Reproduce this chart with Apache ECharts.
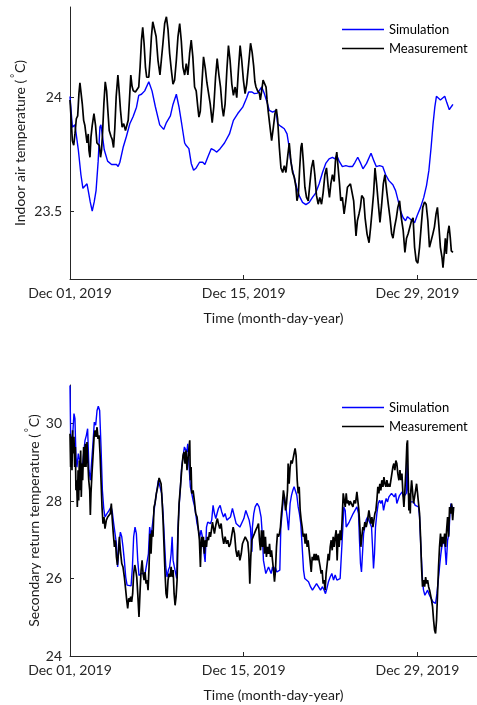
<!DOCTYPE html>
<html>
<head>
<meta charset="utf-8">
<script src="https://cdn.jsdelivr.net/npm/echarts@6/dist/echarts.min.js"></script>
<style>
  html, body { margin: 0; padding: 0; background: #fff; }
  #chart { width: 477px; height: 705px; }
</style>
</head>
<body>
<div id="chart"></div>
<script>
// Time is given in days after Dec 01, 2019 00:00.
const tickDays = [0, 14, 28];
const tickLabels = ['Dec 01, 2019', 'Dec 15, 2019', 'Dec 29, 2019'];
const xMaxDay = 32.8;

// Indoor air temperature, simulation (°C)
const simAirDays = [0,0.19,0.4,0.67,0.88,1.04,1.2,1.37,1.47,1.63,1.79,1.95,2.1,2.27,2.41,2.49,2.62,2.76,3.03,3.35,3.75,3.88,4.02,4.28,4.55,4.82,5.09,5.36,5.54,5.76,6.02,6.35,6.61,6.88,7.23,7.55,7.77,8.09,8.3,8.57,8.78,9.0,9.24,9.35,9.58,9.77,9.96,10.17,10.44,10.7,10.87,11.1,11.38,11.65,11.83,12.1,12.45,12.85,13.17,13.52,13.92,14.24,14.4,14.67,14.86,15.12,15.45,15.66,15.88,16.06,16.33,16.6,16.73,17.0,17.27,17.49,17.61,17.75,17.89,18.07,18.26,18.47,18.74,19.01,19.28,19.54,19.81,20.08,20.35,20.61,20.88,21.15,21.36,21.5,21.69,21.95,22.23,22.5,22.76,22.97,23.19,23.43,23.61,23.9,24.26,24.5,24.68,24.95,25.2,25.44,25.7,26.02,26.24,26.45,26.64,26.85,27.04,27.2,27.39,27.55,27.77,27.98,28.25,28.51,28.73,28.92,29.1,29.26,29.4,29.53,29.66,29.85,30.0,30.2,30.38,30.57,30.73,30.86];
const simAirVals = [24.005,23.87,23.88,23.77,23.66,23.60,23.605,23.62,23.59,23.54,23.50,23.54,23.59,23.72,23.87,23.88,23.83,23.77,23.72,23.705,23.705,23.696,23.715,23.78,23.83,23.885,23.917,23.958,24.01,24.015,24.03,24.07,24.03,23.96,23.88,23.86,23.89,23.92,23.97,24.015,23.96,23.885,23.80,23.79,23.775,23.71,23.68,23.69,23.715,23.715,23.705,23.737,23.775,23.767,23.76,23.775,23.80,23.84,23.90,23.93,23.958,24.0,24.025,24.025,24.018,24.02,24.047,24.018,23.98,23.944,23.936,23.944,23.885,23.873,23.863,23.84,23.80,23.737,23.69,23.65,23.605,23.568,23.538,23.528,23.538,23.56,23.58,23.62,23.67,23.71,23.73,23.737,23.73,23.745,23.72,23.696,23.70,23.696,23.696,23.715,23.737,23.71,23.686,23.71,23.755,23.72,23.696,23.70,23.696,23.66,23.634,23.616,23.59,23.545,23.50,23.47,23.457,23.475,23.466,23.47,23.448,23.48,23.516,23.56,23.612,23.678,23.78,23.885,23.958,24.006,24.01,23.99,23.992,24.006,23.976,23.947,23.96,23.97];

// Indoor air temperature, measurement (°C)
const measAirDays = [0,0.1,0.19,0.3,0.4,0.51,0.62,0.72,0.8,0.88,0.99,1.1,1.2,1.31,1.37,1.47,1.53,1.61,1.69,1.79,1.93,2.06,2.17,2.27,2.36,2.46,2.54,2.62,2.73,2.84,2.95,3.05,3.16,3.3,3.4,3.51,3.61,3.72,3.86,3.96,4.07,4.2,4.33,4.47,4.58,4.69,4.79,4.9,5.0,5.1,5.27,5.43,5.54,5.65,5.76,5.86,5.97,6.08,6.18,6.35,6.45,6.56,6.67,6.83,6.94,7.09,7.25,7.36,7.49,7.63,7.77,7.9,8.03,8.17,8.3,8.43,8.57,8.7,8.84,8.97,9.1,9.24,9.37,9.5,9.64,9.77,9.9,10.04,10.17,10.3,10.39,10.5,10.63,10.76,10.9,11.03,11.17,11.3,11.46,11.59,11.73,11.86,12.0,12.13,12.26,12.37,12.5,12.64,12.77,12.9,13.04,13.17,13.31,13.44,13.57,13.71,13.84,13.97,14.11,14.24,14.4,14.55,14.68,14.8,14.9,14.99,15.12,15.26,15.34,15.45,15.56,15.66,15.8,15.88,15.98,16.12,16.25,16.39,16.52,16.63,16.73,16.87,17.0,17.14,17.27,17.4,17.54,17.67,17.8,17.94,18.07,18.21,18.29,18.4,18.5,18.61,18.69,18.8,18.93,19.06,19.2,19.33,19.46,19.6,19.73,19.86,20.0,20.13,20.27,20.4,20.54,20.67,20.81,20.91,21.02,21.15,21.29,21.39,21.5,21.61,21.72,21.82,21.95,22.09,22.23,22.36,22.49,22.6,22.7,22.86,22.97,23.05,23.16,23.29,23.4,23.51,23.67,23.78,23.94,24.1,24.23,24.37,24.47,24.58,24.71,24.85,24.98,25.12,25.25,25.38,25.52,25.65,25.79,25.92,26.03,26.16,26.3,26.42,26.56,26.7,26.85,26.99,27.12,27.25,27.39,27.52,27.65,27.77,27.9,28.03,28.17,28.3,28.43,28.57,28.7,28.84,28.97,29.1,29.24,29.37,29.5,29.61,29.72,29.85,29.98,30.06,30.17,30.25,30.33,30.44,30.55,30.65,30.73,30.81,30.86];
const measAirVals = [23.99,23.90,23.81,23.79,23.84,23.907,23.92,24.018,24.065,24.06,23.973,23.90,23.877,23.87,23.80,23.84,23.767,23.737,23.826,23.877,23.93,23.877,23.80,23.80,23.79,23.737,23.767,23.84,23.973,24.07,24.03,23.944,23.855,23.83,23.816,23.78,23.863,24.003,24.10,24.03,23.944,23.87,23.885,23.855,23.848,23.90,23.99,24.10,24.05,24.03,24.025,24.018,24.047,24.135,24.254,24.31,24.24,24.135,24.09,24.09,24.165,24.268,24.335,24.335,24.27,24.165,24.10,24.165,24.24,24.327,24.357,24.30,24.195,24.12,24.06,24.077,24.165,24.268,24.327,24.25,24.135,24.10,24.15,24.10,24.195,24.254,24.18,24.047,24.03,23.958,23.914,23.94,24.06,24.18,24.13,24.067,24.06,23.973,23.89,23.96,24.09,24.172,24.10,24.047,23.958,23.917,23.973,24.12,24.23,24.165,24.06,24.01,24.047,24.00,24.12,24.23,24.165,24.08,24.018,24.06,24.15,24.24,24.2,24.14,24.07,24.047,24.03,24.02,23.99,24.03,24.077,24.07,24.047,23.99,23.936,23.87,23.81,23.87,23.93,23.95,23.907,23.78,23.69,23.67,23.70,23.67,23.74,23.80,23.72,23.67,23.65,23.605,23.545,23.57,23.68,23.78,23.80,23.72,23.605,23.56,23.545,23.62,23.69,23.725,23.66,23.57,23.53,23.56,23.53,23.58,23.66,23.69,23.605,23.56,23.62,23.66,23.63,23.72,23.76,23.69,23.62,23.545,23.56,23.487,23.545,23.605,23.61,23.62,23.62,23.545,23.457,23.39,23.457,23.487,23.516,23.568,23.555,23.47,23.398,23.36,23.43,23.516,23.58,23.69,23.62,23.53,23.45,23.53,23.62,23.66,23.59,23.53,23.47,23.40,23.38,23.43,23.47,23.516,23.545,23.47,23.415,23.317,23.38,23.40,23.398,23.457,23.47,23.34,23.28,23.27,23.34,23.43,23.516,23.54,23.53,23.457,23.34,23.335,23.398,23.43,23.487,23.516,23.44,23.34,23.295,23.25,23.32,23.38,23.31,23.40,23.435,23.38,23.324,23.33,23.317];

// Secondary return temperature, simulation (°C)
const simRetDays = [0,0.05,0.13,0.24,0.32,0.4,0.48,0.56,0.67,0.78,0.89,1.0,1.1,1.21,1.32,1.42,1.53,1.64,1.75,1.85,1.96,2.07,2.18,2.28,2.39,2.5,2.61,2.72,2.82,2.98,3.15,3.31,3.41,3.52,3.63,3.74,3.84,3.95,4.06,4.17,4.27,4.38,4.49,4.6,4.76,4.92,5.03,5.13,5.24,5.35,5.46,5.56,5.73,5.89,6.05,6.21,6.32,6.42,6.53,6.64,6.75,6.85,7.0,7.12,7.26,7.39,7.5,7.61,7.72,7.82,7.93,8.03,8.15,8.23,8.31,8.41,8.52,8.6,8.68,8.79,8.9,9.0,9.11,9.22,9.33,9.41,9.49,9.6,9.7,9.81,9.92,10.02,10.13,10.24,10.35,10.46,10.56,10.67,10.78,10.89,11.0,11.1,11.21,11.32,11.42,11.53,11.64,11.75,11.85,11.96,12.1,12.23,12.37,12.5,12.64,12.77,12.93,13.09,13.26,13.39,13.53,13.69,13.85,14.01,14.17,14.3,14.44,14.55,14.62,14.66,14.7,14.81,14.92,15.08,15.24,15.4,15.51,15.59,15.67,15.78,15.89,16.0,16.1,16.21,16.32,16.43,16.53,16.67,16.8,16.91,16.99,17.07,17.18,17.28,17.39,17.5,17.61,17.66,17.74,17.85,17.96,18.06,18.17,18.28,18.39,18.49,18.6,18.71,18.82,18.92,19.06,19.22,19.38,19.54,19.7,19.87,20.03,20.19,20.35,20.48,20.59,20.7,20.83,20.97,21.1,21.24,21.37,21.51,21.64,21.77,21.91,21.99,22.07,22.18,22.26,22.36,22.5,22.66,22.82,22.98,23.12,23.25,23.33,23.41,23.49,23.59,23.66,23.76,23.87,23.98,24.09,24.19,24.3,24.38,24.46,24.54,24.62,24.73,24.84,24.95,25.05,25.16,25.27,25.38,25.48,25.59,25.7,25.81,25.91,26.02,26.13,26.24,26.34,26.45,26.56,26.67,26.77,26.88,26.99,27.1,27.17,27.22,27.31,27.42,27.55,27.69,27.82,27.96,28.09,28.17,28.25,28.33,28.41,28.49,28.6,28.71,28.82,28.92,29.03,29.14,29.25,29.35,29.46,29.57,29.68,29.78,29.89,30.0,30.11,30.22,30.32,30.43,30.54,30.62,30.7,30.81,30.91];
const simRetVals = [30.99,29.74,29.48,29.83,30.26,30.13,29.14,28.88,29.23,29.05,29.1,28.88,29.23,29.57,29.7,29.87,28.8,28.54,29.05,29.48,30.04,29.96,30.34,30.45,30.34,29.4,28.28,27.81,27.59,27.68,27.76,27.85,27.72,27.42,27.16,26.9,26.3,26.9,27.2,27.08,26.82,26.47,26.04,25.83,25.81,25.81,26.3,27.08,27.33,27.16,26.47,26.08,26.13,26.17,26.13,26.08,26.64,27.33,27.08,27.08,27.68,27.94,28.28,28.54,28.54,28.2,27.68,26.99,26.3,26.04,26.22,26.3,26.64,27.08,26.47,26.3,26.13,26.0,27.16,27.85,28.37,28.88,29.14,29.4,29.44,29.27,29.48,28.88,28.37,28.2,28.02,27.89,27.68,27.42,27.25,27.08,27.25,27.08,26.73,26.43,27.33,27.46,27.51,27.42,27.51,27.89,27.68,27.55,27.68,27.81,27.89,27.72,27.59,27.68,27.51,27.46,27.59,27.81,27.59,27.42,27.42,27.33,27.33,27.55,27.76,27.76,27.51,27.3,26.85,26.69,27.33,27.68,27.85,27.94,27.85,27.59,27.08,26.47,26.43,26.13,26.17,26.3,26.3,26.13,26.3,26.17,26.3,26.17,26.22,26.22,27.33,27.59,28.02,28.11,27.85,27.59,27.25,27.51,27.94,28.15,28.28,28.37,28.37,28.15,27.85,27.68,27.42,26.82,26.22,26.0,25.96,25.92,25.79,25.7,25.74,25.87,25.83,25.7,25.79,25.7,25.61,25.74,25.92,26.04,26.13,25.96,26.09,25.96,25.96,26.0,26.04,27.33,27.85,27.76,27.33,27.33,27.46,27.51,27.68,27.72,27.85,27.68,26.99,26.39,26.17,26.22,27.16,27.33,27.51,27.59,27.59,27.42,27.33,26.82,26.26,26.64,27.33,27.68,27.94,28.02,27.94,28.02,27.76,27.94,28.07,27.98,28.11,28.07,28.2,28.15,28.11,28.2,27.94,27.94,28.15,28.2,28.24,28.11,28.15,28.2,29.0,28.3,28.11,27.98,27.94,27.98,27.89,27.89,27.85,27.59,26.99,26.47,25.96,25.7,25.57,25.61,25.7,25.61,25.53,25.49,25.4,25.36,25.36,25.61,25.96,26.3,26.64,26.9,26.99,26.82,26.35,26.99,27.16,27.68,27.94,27.85,27.76];

// Secondary return temperature, measurement (°C)
const measRetDays = [0,0.05,0.1,0.16,0.21,0.27,0.32,0.38,0.43,0.48,0.54,0.59,0.65,0.7,0.75,0.81,0.86,0.91,0.97,1.02,1.1,1.16,1.24,1.29,1.37,1.42,1.51,1.59,1.64,1.69,1.77,1.85,1.94,2.02,2.1,2.18,2.26,2.34,2.42,2.5,2.58,2.66,2.74,2.82,2.93,3.04,3.15,3.25,3.33,3.41,3.49,3.58,3.66,3.74,3.82,3.9,3.98,4.06,4.17,4.27,4.38,4.49,4.57,4.65,4.73,4.81,4.89,4.97,5.05,5.13,5.22,5.3,5.38,5.46,5.56,5.65,5.73,5.81,5.89,5.97,6.05,6.13,6.21,6.29,6.37,6.45,6.53,6.61,6.69,6.77,6.85,6.96,7.07,7.18,7.26,7.34,7.42,7.5,7.58,7.66,7.74,7.82,7.9,7.98,8.06,8.15,8.23,8.31,8.39,8.47,8.55,8.63,8.71,8.79,8.9,9.0,9.11,9.19,9.27,9.35,9.43,9.52,9.6,9.65,9.7,9.76,9.81,9.92,10.02,10.13,10.24,10.35,10.43,10.51,10.59,10.67,10.75,10.83,10.91,11.0,11.07,11.16,11.24,11.32,11.4,11.48,11.56,11.64,11.72,11.8,11.88,11.96,12.07,12.18,12.29,12.39,12.5,12.61,12.72,12.82,12.93,13.04,13.15,13.26,13.37,13.47,13.58,13.69,13.8,13.9,14.01,14.12,14.23,14.33,14.41,14.49,14.57,14.65,14.76,14.86,14.97,15.08,15.19,15.27,15.35,15.43,15.51,15.59,15.67,15.75,15.83,15.91,16.0,16.08,16.16,16.24,16.32,16.4,16.48,16.56,16.64,16.72,16.8,16.88,16.96,17.04,17.12,17.2,17.28,17.37,17.45,17.53,17.58,17.66,17.74,17.82,17.9,17.98,18.06,18.14,18.22,18.31,18.39,18.47,18.55,18.63,18.71,18.79,18.87,18.95,19.03,19.11,19.19,19.27,19.35,19.44,19.52,19.6,19.68,19.76,19.84,19.92,20.0,20.08,20.16,20.24,20.32,20.4,20.48,20.56,20.64,20.73,20.81,20.89,20.97,21.05,21.13,21.21,21.29,21.37,21.45,21.53,21.61,21.69,21.77,21.85,21.93,22.02,22.1,22.18,22.26,22.34,22.42,22.5,22.58,22.69,22.8,22.9,23.01,23.12,23.2,23.28,23.36,23.44,23.52,23.6,23.68,23.76,23.87,23.98,24.09,24.17,24.25,24.33,24.41,24.49,24.57,24.65,24.73,24.81,24.89,24.97,25.05,25.13,25.22,25.3,25.38,25.46,25.54,25.62,25.7,25.78,25.86,25.94,26.02,26.1,26.18,26.26,26.34,26.42,26.51,26.59,26.67,26.75,26.83,26.91,26.99,27.07,27.15,27.2,27.26,27.31,27.37,27.42,27.47,27.53,27.6,27.69,27.77,27.85,27.93,28.01,28.09,28.17,28.25,28.33,28.41,28.49,28.58,28.66,28.74,28.82,28.9,28.98,29.06,29.14,29.22,29.3,29.38,29.46,29.54,29.62,29.7,29.78,29.86,29.94,30.02,30.11,30.19,30.27,30.35,30.43,30.51,30.59,30.67,30.75,30.84,30.92];
const measRetVals = [29.74,28.88,29.66,28.8,29.83,29.23,29.66,28.88,29.4,28.28,28.54,27.85,28.8,28.02,29.05,28.28,29.31,28.11,28.97,28.54,29.4,28.88,29.48,28.88,29.53,29.14,28.54,28.28,27.64,28.2,28.71,29.14,29.66,29.83,29.66,29.91,29.61,29.7,29.23,28.54,27.85,27.42,27.59,27.29,27.51,27.59,27.64,27.68,27.94,27.51,27.16,26.82,26.99,26.56,26.35,26.64,27.08,26.73,26.39,26.3,26.04,25.7,25.44,25.23,25.49,25.4,25.53,25.4,25.61,26.13,26.35,26.22,26.04,25.61,25.01,25.7,26.22,26.47,26.13,25.96,26.17,25.87,25.96,25.7,26.3,27.16,26.64,27.25,27.08,27.85,27.94,28.2,28.37,28.6,28.62,28.45,28.02,27.51,26.82,26.13,25.61,25.49,25.96,26.13,26.04,26.3,26.04,26.22,25.61,25.31,25.53,25.96,27.25,27.94,28.37,28.8,29.18,29.27,28.97,29.31,28.8,29.14,29.4,29.57,28.54,28.88,28.2,28.28,28.02,27.68,27.59,27.25,26.99,26.3,27.08,26.82,27.08,26.64,26.99,26.82,27.08,26.99,27.2,27.08,27.25,27.46,27.51,27.16,27.33,27.46,27.55,27.42,27.29,27.42,27.08,26.9,27.08,26.9,26.99,26.82,26.9,27.12,27.33,27.16,26.73,26.56,26.73,26.47,26.64,26.9,26.99,27.08,27.12,26.94,26.64,25.87,26.56,26.99,27.08,27.16,27.25,27.33,27.42,26.99,26.73,27.25,26.82,27.25,26.64,27.08,26.56,26.82,26.64,26.9,26.56,26.73,26.47,26.22,25.92,26.22,26.82,27.16,27.08,27.16,27.33,27.68,27.94,28.28,28.11,27.76,27.94,28.28,28.97,28.45,28.88,29.05,28.97,29.1,29.23,29.36,29.18,28.54,28.2,28.37,27.76,27.51,27.33,27.08,27.16,26.9,27.16,26.82,26.99,26.73,26.47,26.17,26.56,26.47,26.64,26.47,26.64,26.47,26.6,26.56,26.3,26.13,26.22,25.87,25.96,25.7,26.13,26.39,26.64,26.47,26.82,26.99,26.73,27.08,26.82,27.08,27.25,26.47,27.16,26.82,27.25,26.99,27.51,28.2,28.15,27.85,28.2,27.94,28.02,27.89,28.0,28.02,27.85,28.02,27.94,28.24,28.28,27.76,27.33,26.82,27.08,27.33,27.25,27.46,27.33,27.51,27.76,27.59,27.42,27.59,27.33,27.51,27.68,27.76,28.02,28.37,28.2,28.45,28.28,28.54,28.37,28.62,28.45,28.37,28.54,28.37,28.45,28.37,28.54,28.71,28.88,28.97,28.8,29.05,28.97,28.71,28.54,28.8,28.54,28.71,28.2,27.85,28.28,28.8,29.48,29.57,28.54,27.76,28.2,27.68,28.28,28.54,28.28,27.94,28.11,28.28,28.45,28.2,27.94,27.68,27.08,26.3,25.79,25.96,25.79,26.04,25.87,25.96,25.79,25.7,25.57,25.44,25.27,24.93,24.67,24.58,24.93,25.61,26.3,26.82,27.16,26.82,27.08,26.9,27.16,26.82,27.25,27.59,27.08,27.85,27.68,27.94,27.51,27.85];

const airTicks = [23.5, 24];
const retTicks = [24, 26, 28, 30];

const pairs = (days, vals) => days.map((d, i) => [d, vals[i]]);

const FONT = 'Lato, "Open Sans", sans-serif';
const AXIS_COLOR = '#262626';
const TEXT_COLOR = '#1a1a1a';
const SIM_COLOR = '#0000ff';
const MEAS_COLOR = '#000000';

function xAxisFor(gridIndex) {
  return {
    type: 'value', gridIndex: gridIndex, min: 0, max: xMaxDay,
    name: 'Time (month-day-year)', nameLocation: 'middle', nameGap: 32,
    nameTextStyle: { fontFamily: FONT, fontSize: 14, color: TEXT_COLOR },
    axisLine: { show: true, lineStyle: { color: AXIS_COLOR, width: 1 } },
    axisTick: { show: true, inside: true, length: 4, customValues: tickDays, lineStyle: { color: AXIS_COLOR } },
    axisLabel: {
      customValues: tickDays, margin: 7, fontFamily: FONT, fontSize: 14, color: AXIS_COLOR,
      formatter: v => tickLabels[tickDays.indexOf(v)] || ''
    },
    splitLine: { show: false }
  };
}

function yAxisFor(gridIndex, min, max, ticks, title, gap) {
  return {
    type: 'value', gridIndex: gridIndex, min: min, max: max,
    name: '{t|' + title + ' (}{d|°}{t|C)}', nameLocation: 'middle', nameGap: gap, nameRotate: 90,
    nameMoveOverlap: false,
    nameTextStyle: {
      fontFamily: FONT, fontSize: 14, color: TEXT_COLOR,
      rich: {
        t: { fontFamily: FONT, fontSize: 14, color: TEXT_COLOR },
        d: { fontFamily: FONT, fontSize: 9, color: TEXT_COLOR, padding: [0, 1, 9, 2] }
      }
    },
    axisLine: { show: true, lineStyle: { color: AXIS_COLOR, width: 1 } },
    axisTick: { show: true, inside: true, length: 4, customValues: ticks, lineStyle: { color: AXIS_COLOR } },
    axisLabel: {
      customValues: ticks, margin: 8, fontFamily: FONT, fontSize: 14, color: AXIS_COLOR,
      formatter: v => String(v)
    },
    splitLine: { show: false }
  };
}

function lineSeries(name, data, color, width, idx) {
  return {
    name: name, type: 'line', data: data, xAxisIndex: idx, yAxisIndex: idx,
    showSymbol: false, symbol: 'none', animation: false,
    lineStyle: { color: color, width: width }, itemStyle: { color: color }
  };
}

function legendAt(top) {
  return {
    data: ['Simulation', 'Measurement'], orient: 'vertical', left: 337, top: top,
    icon: 'rect', itemWidth: 42, itemHeight: 1.5, itemGap: 0,
    textStyle: { fontFamily: FONT, fontSize: 13, color: '#000', lineHeight: 19 },
    selectedMode: false
  };
}

const chart = echarts.init(document.getElementById('chart'), null, { renderer: 'canvas' });
chart.setOption({
  backgroundColor: '#ffffff',
  animation: false,
  grid: [
    { left: 70, top: 7, width: 407, height: 272 },
    { left: 70, top: 385, width: 407, height: 271 }
  ],
  legend: [legendAt(15), legendAt(393)],
  xAxis: [xAxisFor(0), xAxisFor(1)],
  yAxis: [
    yAxisFor(0, 23.2, 24.4, airTicks, 'Indoor air temperature', 41),
    yAxisFor(1, 24, 31, retTicks, 'Secondary return temperature', 27)
  ],
  series: [
    lineSeries('Simulation', pairs(simAirDays, simAirVals), SIM_COLOR, 1.4, 0),
    lineSeries('Measurement', pairs(measAirDays, measAirVals), MEAS_COLOR, 1.7, 0),
    lineSeries('Simulation', pairs(simRetDays, simRetVals), SIM_COLOR, 1.4, 1),
    lineSeries('Measurement', pairs(measRetDays, measRetVals), MEAS_COLOR, 1.7, 1)
  ]
});
</script>
</body>
</html>
